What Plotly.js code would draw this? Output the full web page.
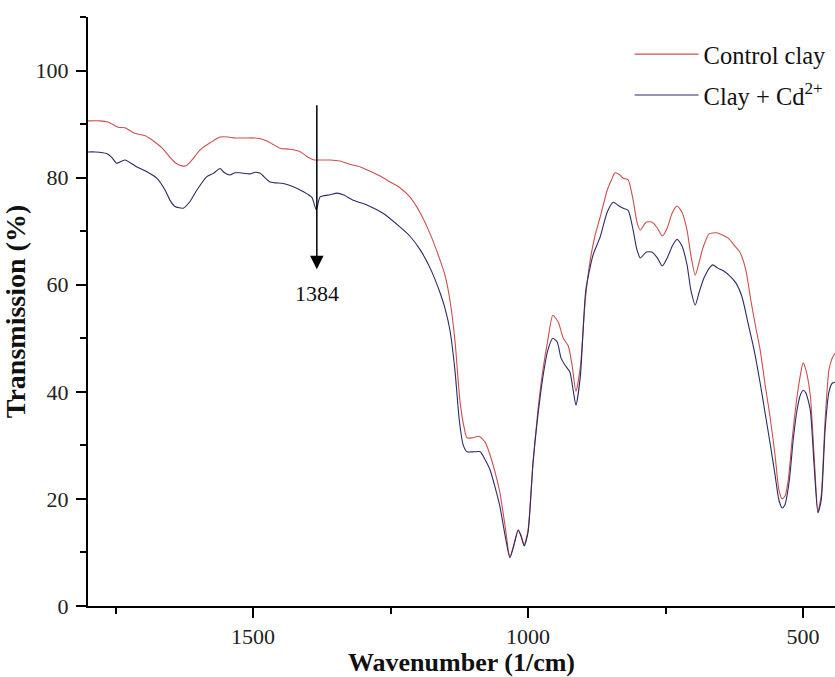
<!DOCTYPE html>
<html>
<head>
<meta charset="utf-8">
<script src="https://cdn.plot.ly/plotly-3.0.1.min.js"></script>
<style>html,body{margin:0;padding:0;background:#fff;}#chart{width:835px;height:677px;}</style>
</head>
<body>
<div id="chart"></div>
<script>
// Control clay (red)
const controlWn = [1800,1778,1764,1745,1733,1715,1696,1678,1665,1651,1640,1629,1622,1611,1596,1578,1560,1545,1533,1515,1496,1478,1465,1451,1433,1415,1400,1389,1378,1360,1342,1324,1305,1287,1269,1251,1233,1215,1196,1178,1160,1151,1142,1133,1124,1116,1111,1102,1089,1078,1069,1060,1051,1042,1033,1026,1018,1013,1007,1000,991,982,973,964,955,945,936,927,920,913,905,896,887,878,869,856,847,842,833,827,818,809,802,796,785,775,765,756,747,738,729,720,711,704,696,689,682,671,658,647,636,624,615,604,595,585,578,569,560,551,544,538,533,527,520,513,505,500,495,487,480,473,467,460,453,447,442];
const controlT = [90.6,90.6,90.4,89.4,89.3,88.3,87.8,86.6,85.5,83.8,82.7,82.2,82.2,83.3,85.2,86.5,87.6,87.6,87.4,87.4,87.4,87.0,86.3,85.5,85.3,84.9,83.8,83.3,83.3,83.3,83.1,82.5,82.0,81.2,80.3,79.2,78.1,76.4,73.4,69.5,64.6,61.8,57.1,49.7,38.5,33.2,31.4,31.4,31.7,30.6,28.2,25.0,21.1,15.1,9.2,11.4,14.2,13.3,11.4,14.2,26.7,36.6,44.1,49.7,54.3,53.0,50.0,48.6,45.0,40.1,44.6,57.1,64.6,69.3,72.6,77.7,79.9,80.9,80.5,79.9,79.6,75.8,71.7,70.2,71.7,71.7,70.6,69.1,70.6,73.4,74.7,73.5,70.2,65.5,61.8,64.2,66.9,69.5,69.7,69.3,68.7,67.2,66.1,62.7,57.1,51.5,47.8,41.3,35.3,28.2,21.7,20.0,20.5,23.5,31.0,37.5,43.1,45.4,44.1,39.4,28.2,17.6,20.7,34.7,44.1,46.3,47.2];

// Clay + Cd2+ (blue)
const cadmiumWn = [1800,1787,1766,1756,1748,1733,1711,1693,1675,1660,1651,1642,1627,1615,1602,1584,1572,1560,1553,1542,1533,1524,1505,1496,1487,1469,1445,1427,1409,1393,1385,1378,1360,1347,1336,1318,1293,1263,1233,1215,1196,1178,1160,1151,1142,1133,1125,1118,1111,1098,1087,1078,1069,1060,1051,1042,1033,1026,1018,1013,1007,1000,991,982,973,964,955,947,940,933,924,918,913,905,895,882,869,856,845,836,827,818,809,802,796,785,775,765,756,747,738,729,720,711,704,696,689,680,669,664,655,645,633,622,611,600,589,578,569,560,551,544,538,533,525,518,511,505,500,495,487,480,473,467,460,453,447,442];
const cadmiumT = [84.8,84.8,84.5,83.7,82.7,83.3,82.0,81.1,79.9,77.7,75.8,74.6,74.3,75.5,77.7,80.2,80.8,81.7,81.0,80.5,80.9,80.9,80.7,81.0,80.8,79.2,78.9,78.3,77.4,76.3,74.0,76.4,76.8,77.1,76.8,75.8,74.9,73.3,70.8,69.1,66.5,63.1,58.5,55.6,51.5,44.1,34.7,30.1,28.8,28.8,28.8,27.3,25.4,22.2,18.5,13.3,9.0,11.2,14.2,13.1,11.2,13.8,26.7,35.7,42.8,47.8,50.0,49.3,46.3,45.0,43.7,40.3,37.5,42.8,59.0,65.5,68.9,73.6,75.4,74.8,74.3,73.9,70.2,66.5,65.0,66.1,66.1,65.0,63.5,65.0,67.2,68.5,67.2,63.7,59.0,56.2,58.6,61.3,63.3,63.7,63.1,62.6,61.6,60.3,57.7,52.8,47.8,41.6,36.0,30.4,24.5,19.8,18.3,18.9,23.5,31.0,36.6,39.4,40.3,39.8,36.6,26.3,17.4,19.8,32.9,40.0,41.6,41.8];

const seriesNames = ['Control clay', 'Clay + Cd<sup>2+</sup>'];
const peakLabel = '1384';
const peakWn = 1384;
const xTitle = 'Wavenumber (1/cm)';
const yTitle = 'Transmission (%)';

const FONT = 'Liberation Serif, Times New Roman, serif';

const traces = [
  {x: controlWn, y: controlT, type: 'scatter', mode: 'lines', name: seriesNames[0],
   line: {color: '#cc4f4f', width: 1.1, shape: 'spline', smoothing: 0.6}, legendgroup: 'a'},
  {x: cadmiumWn, y: cadmiumT, type: 'scatter', mode: 'lines', name: seriesNames[1],
   line: {color: '#2b2b66', width: 1.1, shape: 'spline', smoothing: 0.6}, legendgroup: 'b'}
];

const axisCommon = {
  showline: true, linecolor: '#000', linewidth: 2,
  ticks: 'outside', tickcolor: '#000', tickwidth: 2, ticklen: 10,
  showgrid: false, zeroline: false,
  tickfont: {family: FONT, size: 22, color: '#222'}
};

const layout = {
  width: 835, height: 677,
  margin: {l: 88, r: 0, t: 17, b: 71},
  paper_bgcolor: '#fff', plot_bgcolor: '#fff',
  font: {family: FONT, color: '#111'},
  showlegend: true,
  legend: {
    x: 0.725, xanchor: 'left', y: 0.975, yanchor: 'top',
    font: {family: FONT, size: 24.5, color: '#111'},
    bgcolor: 'rgba(0,0,0,0)', borderwidth: 0,
    itemwidth: 64, tracegroupgap: 6, traceorder: 'grouped'
  },
  xaxis: Object.assign({}, axisCommon, {
    range: [1800, 442], dtick: 500, tick0: 0,
    minor: {ticks: 'outside', ticklen: 6, tickwidth: 2, tickcolor: '#000', dtick: 250, tick0: 0},
    title: {text: '<b>' + xTitle + '</b>', font: {family: FONT, size: 26, color: '#111'}, standoff: 11}
  }),
  yaxis: Object.assign({}, axisCommon, {
    range: [0, 110], dtick: 20, tick0: 0, ticklabelstandoff: 3,
    minor: {ticks: 'outside', ticklen: 6, tickwidth: 2, tickcolor: '#000', dtick: 10, tick0: 0},
    title: {text: '<b>' + yTitle + '</b>', font: {family: FONT, size: 28, color: '#111'}, standoff: 8}
  }),
  annotations: [
    {x: peakWn, y: 93.5, ax: peakWn, ay: 58.4, xref: 'x', yref: 'y', axref: 'x', ayref: 'y',
     text: peakLabel, showarrow: true, arrowside: 'start', startarrowhead: 2, startarrowsize: 1.8,
     arrowwidth: 1.5, arrowcolor: '#000', startstandoff: 10,
     font: {family: FONT, size: 22, color: '#111'}}
  ]
};

Plotly.newPlot('chart', traces, layout, {displayModeBar: false, staticPlot: true});
</script>
</body>
</html>
